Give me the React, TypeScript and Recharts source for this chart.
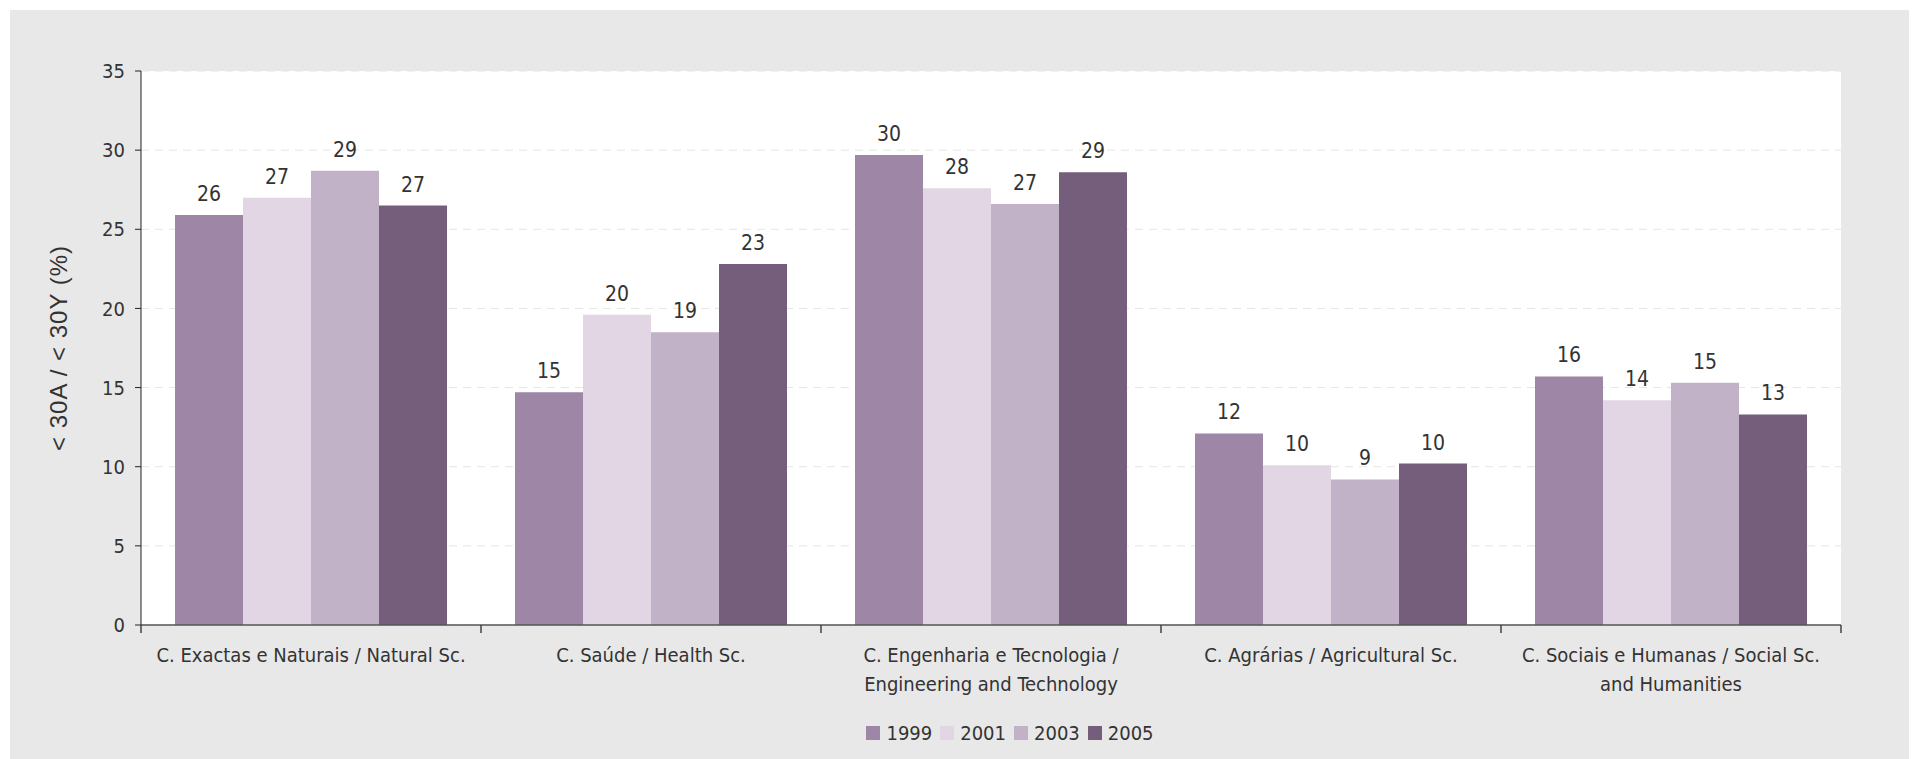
import React from 'react';
import { BarChart, Bar, XAxis, YAxis, CartesianGrid, Legend, LabelList } from 'recharts';

const categories = [
  'C. Exactas e Naturais / Natural Sc.',
  'C. Saúde / Health Sc.',
  'C. Engenharia e Tecnologia /\nEngineering and Technology',
  'C. Agrárias / Agricultural Sc.',
  'C. Sociais e Humanas / Social Sc.\nand Humanities',
];

const years = ['1999', '2001', '2003', '2005'];
const values1999 = [25.9, 14.7, 29.7, 12.1, 15.7];
const values2001 = [27.0, 19.6, 27.6, 10.1, 14.2];
const values2003 = [28.7, 18.5, 26.6, 9.2, 15.3];
const values2005 = [26.5, 22.8, 28.6, 10.2, 13.3];
const yTicks = [0, 5, 10, 15, 20, 25, 30, 35];
const yLabel = '< 30A / < 30Y (%)';

const colors = ['#9e86a6', '#e2d6e4', '#c2b2c7', '#755e7b'];
const FONT = '"Liberation Sans Narrow", "DejaVu Sans Condensed", sans-serif';
const TEXT = '#333';

const data = categories.map((name, i) => ({
  name,
  '1999': values1999[i],
  '2001': values2001[i],
  '2003': values2003[i],
  '2005': values2005[i],
}));

const CategoryTick = (props: any) => {
  const { x, y, payload, index, width, visibleTicksCount } = props;
  const half = width / visibleTicksCount / 2;
  const lines = String(payload.value).split('\n');
  return (
    <g>
      <line x1={x - half} x2={x - half} y1={y} y2={y + 8} stroke="#444" strokeWidth={1.5} />
      {index === visibleTicksCount - 1 && (
        <line x1={x + half} x2={x + half} y1={y} y2={y + 8} stroke="#444" strokeWidth={1.5} />
      )}
      <text x={x} y={y + 37} textAnchor="middle" fill={TEXT} fontSize={20} fontFamily={FONT}>
        {lines.map((l, i) => (
          <tspan key={i} x={x} dy={i === 0 ? 0 : 29}>{l}</tspan>
        ))}
      </text>
    </g>
  );
};

const YearLegend = () => (
  <div style={{ display: 'flex', justifyContent: 'center', alignItems: 'center', fontFamily: FONT, fontSize: 20, color: TEXT, paddingLeft: 136 }}>
    {years.map((yr, i) => (
      <div key={yr} style={{ display: 'flex', alignItems: 'center', marginRight: 8 }}>
        <span style={{ width: 14, height: 14, background: colors[i], display: 'inline-block', marginRight: 6 }} />
        <span>{yr}</span>
      </div>
    ))}
  </div>
);

export default function App() {
  return (
    <div style={{ position: 'absolute', left: 0, top: 0, width: 1921, height: 759, background: '#fff' }}>
      <div style={{ position: 'absolute', left: 10, top: 10, width: 1899, height: 749, background: '#e8e8e8' }}>
        <BarChart
          width={1899}
          height={749}
          data={data}
          margin={{ top: 61, right: 68, left: 41, bottom: 8 }}
          barCategoryGap="10%"
          barGap={0}
        >
          <CartesianGrid vertical={false} fill="#fff" stroke="#e6e6e6" strokeDasharray="8 6" />
          <XAxis
            dataKey="name"
            interval={0}
            height={96}
            tickLine={false}
            tickSize={0}
            tickMargin={0}
            axisLine={{ stroke: '#555', strokeWidth: 1.5 }}
            tick={<CategoryTick />}
          />
          <YAxis
            width={90}
            domain={[0, 35]}
            ticks={yTicks}
            interval={0}
            axisLine={{ stroke: '#222' }}
            tickLine={{ stroke: '#222' }}
            tickSize={6}
            tickMargin={10}
            tick={{ fill: TEXT, fontSize: 20, fontFamily: FONT }}
            label={{
              value: yLabel,
              angle: -90,
              position: 'insideLeft',
              offset: 7,
              style: { textAnchor: 'middle', fill: TEXT, fontSize: 24, letterSpacing: 1, fontFamily: '"Liberation Sans", Arial, sans-serif' },
            }}
          />
          <Legend verticalAlign="bottom" height={30} content={<YearLegend />} />
          {years.map((yr, i) => (
            <Bar key={yr} dataKey={yr} fill={colors[i]} isAnimationActive={false}>
              <LabelList
                dataKey={yr}
                position="top"
                offset={14}
                formatter={(v: any) => Math.round(Number(v))}
                style={{ fill: TEXT, fontSize: 21, fontFamily: FONT }}
              />
            </Bar>
          ))}
        </BarChart>
      </div>
    </div>
  );
}
